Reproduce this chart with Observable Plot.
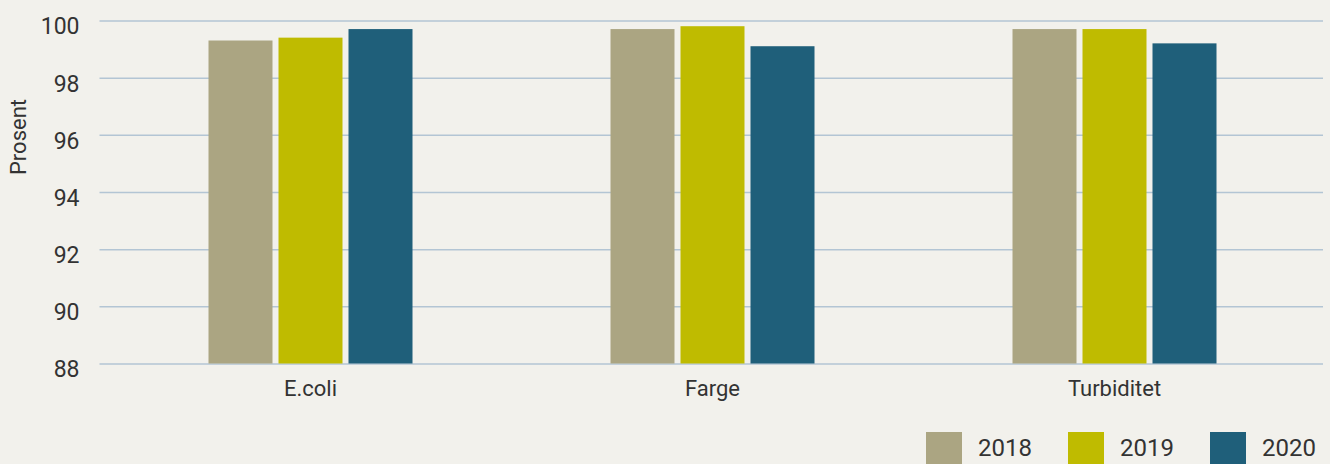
<!DOCTYPE html>
<html><head><meta charset="utf-8">
<script src="https://cdn.jsdelivr.net/npm/d3@7"></script>
<script src="https://cdn.jsdelivr.net/npm/@observablehq/plot@0.6"></script>
<style>
html,body{margin:0;padding:0;background:#f2f1ec;}
#wrap{position:relative;width:1330px;height:464px;overflow:hidden;font-family:Roboto,sans-serif;color:#333;}
#ylabel{position:absolute;left:18px;top:137px;transform:translate(-50%,-50%) rotate(-90deg);font-size:22px;white-space:nowrap;}
#legend{position:absolute;left:926px;top:432px;display:flex;}
.item{display:flex;align-items:flex-start;width:142px;}
.sw{width:36px;height:32px;margin-right:16px;}
.lt{font-size:24px;margin-top:4px;line-height:24px;}
</style></head>
<body><div id="wrap"><div id="chart"></div><div id="ylabel">Prosent</div><div id="legend"></div></div>
<script>
const categories = ["E.coli", "Farge", "Turbiditet"];
const years = ["2018", "2019", "2020"];
const v2018 = [99.3, 99.7, 99.7];
const v2019 = [99.4, 99.8, 99.7];
const v2020 = [99.7, 99.1, 99.2];
const yTicks = [88, 90, 92, 94, 96, 98, 100];
const colors = ["#aba582", "#bfbb00", "#1f5f7a"];

const series = [v2018, v2019, v2020];
const rows = [];
categories.forEach((c, i) => years.forEach((y, j) => rows.push({category: c, year: y, value: series[j][i]})));
const grid = [];
categories.forEach(c => yTicks.forEach(t => grid.push({category: c, y: t})));
const last = categories.length - 1;
const gridOpts = {fx: "category", y: "y", stroke: "#b3c5d4", strokeWidth: 1.5};

const chart = Plot.plot({
  width: 1330, height: 410,
  marginLeft: 108.5, marginRight: 15, marginTop: 20.5, marginBottom: 46.5,
  style: {background: "transparent", fontFamily: "Roboto, sans-serif", fontSize: "23px", color: "#333"},
  fx: {domain: categories, padding: 0, label: null, axis: null},
  x: {domain: years, paddingInner: 0.09, paddingOuter: 1.398, axis: null},
  y: {domain: [88, 100], axis: null},
  color: {domain: years, range: colors},
  marks: [
    Plot.ruleY(grid.filter(d => d.category === categories[0]), {...gridOpts, insetLeft: -9.5}),
    Plot.ruleY(grid.filter(d => d.category !== categories[0] && d.category !== categories[last]), gridOpts),
    Plot.ruleY(grid.filter(d => d.category === categories[last]), {...gridOpts, insetRight: -8}),
    Plot.axisY(yTicks, {tickSize: 0, tickPadding: 30, dy: 6, fontSize: 23, fill: "#333", label: null}),
    Plot.barY(rows, {fx: "category", x: "year", y1: 88, y2: "value", fill: "year"}),
    Plot.axisFx({anchor: "bottom", tickSize: 0, tickPadding: 16, fontSize: 22, fill: "#333", label: null})
  ]
});
document.getElementById("chart").appendChild(chart);

const legend = document.getElementById("legend");
years.forEach((y, j) => {
  const it = document.createElement("div"); it.className = "item";
  const sw = document.createElement("div"); sw.className = "sw"; sw.style.background = colors[j];
  const lt = document.createElement("div"); lt.className = "lt"; lt.textContent = y;
  it.appendChild(sw); it.appendChild(lt); legend.appendChild(it);
});
</script></body></html>
